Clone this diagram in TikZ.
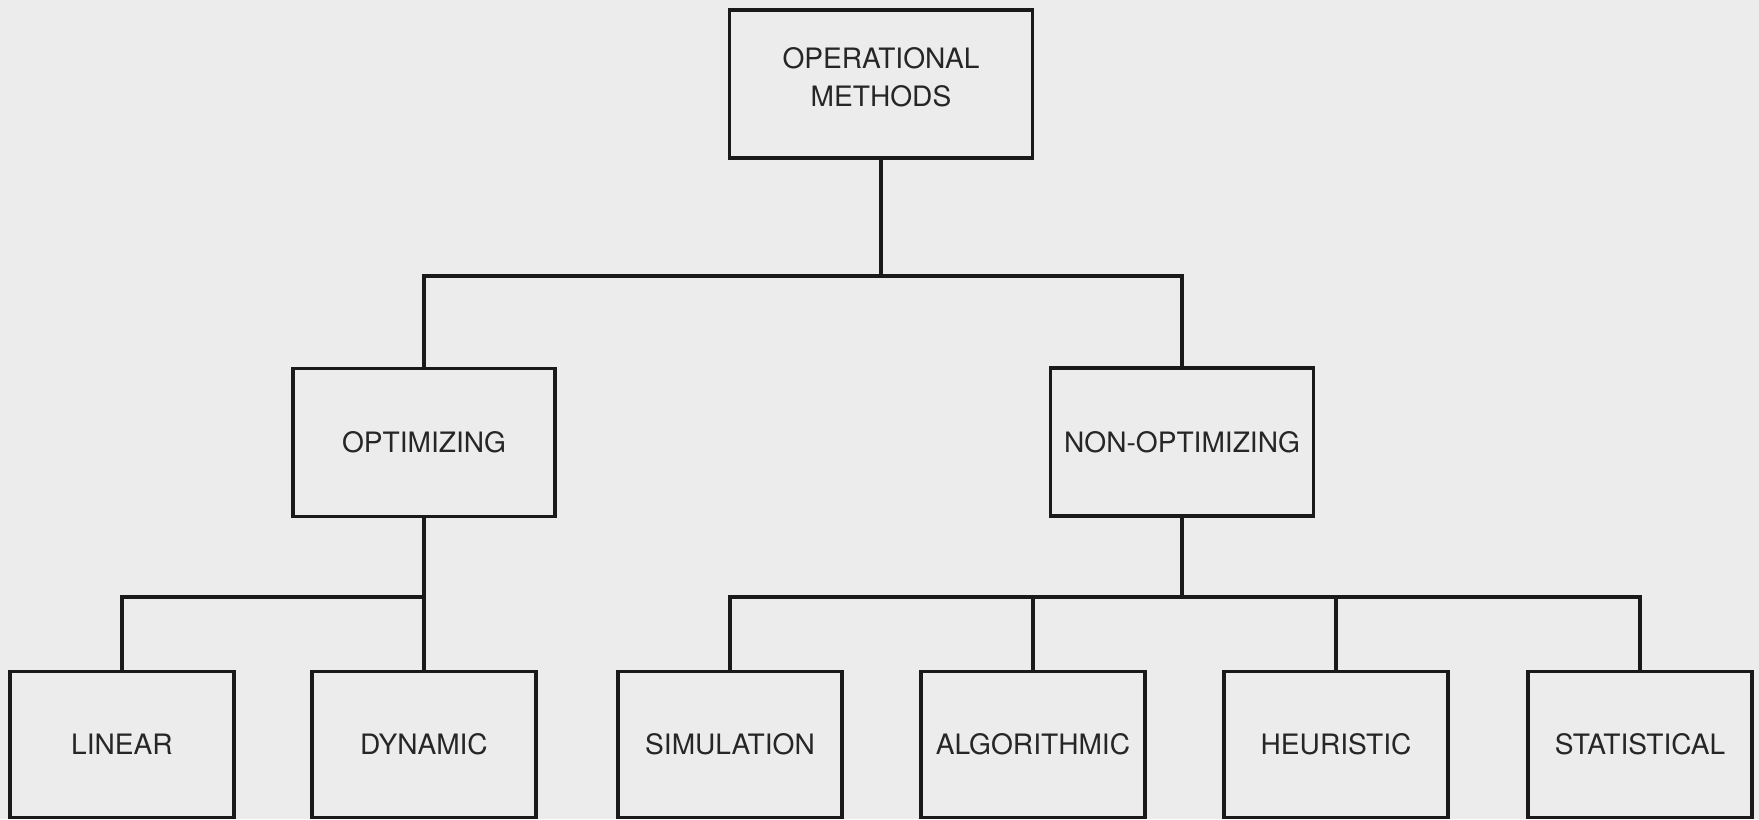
\documentclass[tikz,border=0pt]{standalone}
\usepackage{fontspec}
\setmainfont{TeX Gyre Heros}
\definecolor{paper}{HTML}{ECECEC}
\definecolor{ink}{HTML}{1A1A1A}
\definecolor{txt}{HTML}{262626}
\begin{document}
\begin{tikzpicture}[x=0.02cm,y=-0.02cm,
  box/.style={draw=ink,line width=1.8pt,inner sep=0pt,text=txt,align=center,
    font=\fontsize{16pt}{22pt}\selectfont},
  link/.style={draw=ink,line width=1.8pt}]
\fill[paper] (0,0) rectangle (1759,819);
\useasboundingbox (0,0) rectangle (1759,819);
% top
\node[box,minimum width=303*0.02cm,minimum height=148*0.02cm,text depth=0.28cm] (om) at (881,84) {OPERATIONAL\\METHODS};
% middle
\node[box,minimum width=262*0.02cm,minimum height=148*0.02cm] (opt) at (424,442.5) {OPTIMIZING};
\node[box,minimum width=263*0.02cm,minimum height=148*0.02cm] (nopt) at (1182,442) {NON-OPTIMIZING};
% bottom
\foreach \n/\x/\t in {lin/122/LINEAR,dyn/424/DYNAMIC,sim/730/SIMULATION,alg/1033/ALGORITHMIC,heu/1336/HEURISTIC,sta/1640/STATISTICAL}{
  \node[box,minimum width=224*0.02cm,minimum height=146*0.02cm] (\n) at (\x,744.5) {\t};
}
% buses
\coordinate (b1) at (om.south |- 0,276);
\coordinate (b2) at (opt.south |- 0,597);
\coordinate (b3) at (nopt.south |- 0,597);
\draw[link] (om.south) -- (b1);
\draw[link] (b1) -| (opt.north);
\draw[link] (b1) -| (nopt.north);
\draw[link] (opt.south) -- (b2);
\draw[link] (b2) -| (lin.north);
\draw[link] (b2) -- (dyn.north);
\draw[link] (nopt.south) -- (b3);
\draw[link] (b3) -| (sim.north);
\draw[link] (b3) -| (alg.north);
\draw[link] (b3) -| (heu.north);
\draw[link] (b3) -| (sta.north);
\end{tikzpicture}
\end{document}
